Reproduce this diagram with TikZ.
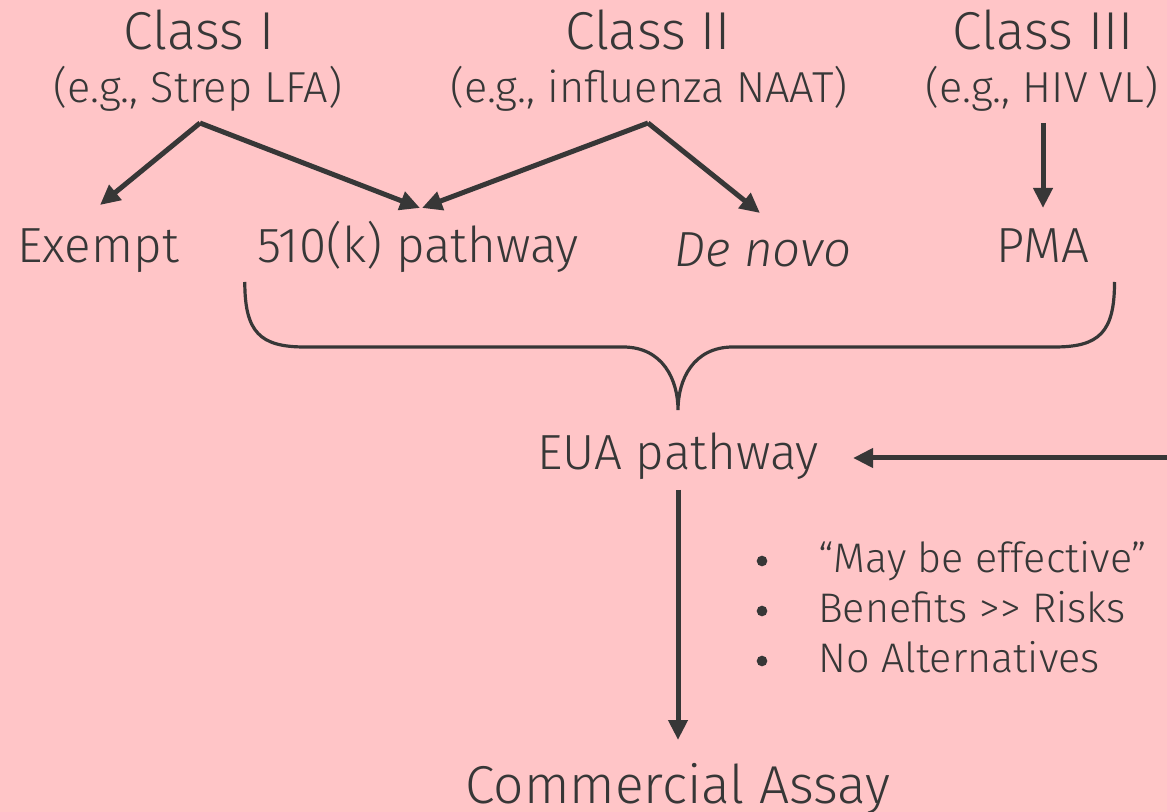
\documentclass[tikz,border=0pt]{standalone}
\usepackage{fontspec}
\setmainfont{Fira Sans}[UprightFont={* Light}, ItalicFont={* Light Italic}]
\usetikzlibrary{arrows.meta,calc}
\definecolor{bgpink}{RGB}{255,197,199}
\definecolor{ink}{RGB}{55,55,55}
\begin{document}
\begin{tikzpicture}[x=0.75pt,y=-0.75pt,
  txt/.style={anchor=base,inner sep=0pt,text=ink},
  big/.style={txt,font=\fontsize{40}{48}\selectfont},
  mid/.style={txt,font=\fontsize{37}{44}\selectfont},
  sub/.style={txt,font=\fontsize{32.5}{38}\selectfont},
  small/.style={txt,font=\fontsize{31}{38}\selectfont},
  arr/.style={draw=ink,line width=3.75pt,-{Triangle[length=15pt,width=14pt]}},
  bracepath/.style={draw=ink,line width=2.4pt}]
% canvas
\fill[bgpink] (0,0) rectangle (1167,812);
\useasboundingbox (0,0) rectangle (1167,812);
% device classes
\node[big] (c1) at (199,50) {Class I};
\node[sub] (s1) at (198,103) {(e.g., Strep LFA)};
\node[big] (c2) at (648,50) {Class II};
\node[sub] (s2) at (649,103) {(e.g., influenza NAAT)};
\node[big] (c3) at (1043,50) {Class III};
\node[sub] (s3) at (1042,103) {(e.g., HIV VL)};
% regulatory routes
\node[mid] (exempt) at (98,263) {Exempt};
\node[mid] (k510) at (418,263) {510(k) pathway};
\node[mid] (denovo) at (763,267) {\itshape De novo};
\node[mid] (pma) at (1043,263) {PMA};
% emergency route and outcome
\node[mid] (eua) at (678,470) {EUA pathway};
\node[big] (assay) at (678,803) {Commercial Assay};
\node[small,anchor=base west] (b1) at (818,572) {``May be effective''};
\node[small,anchor=base west] (b2) at (818,622) {Benefits >\kern0pt> Risks};
\node[small,anchor=base west] (b3) at (818,672) {No Alternatives};
\foreach \b in {b1,b2,b3}
  \fill[ink] ($(\b.base west)+(-56,-11)$) circle (4pt);
% arrows from classes to routes
\draw[arr] ($(s1.base)+(2,20)$) -- ($(exempt.base)+(2,-58)$);
\draw[arr] ($(s1.base)+(2,20)$) -- ($(k510.base)+(2,-55)$);
\draw[arr] ($(s2.base)+(-1,20)$) -- ($(k510.base)+(4,-55)$);
\draw[arr] ($(s2.base)+(-1,20)$) -- ($(denovo.base)+(-3,-54)$);
\draw[arr] ($(s3.base)+(1,20)$) -- ($(pma.base)+(0,-55)$);
% brace gathering the routes
\coordinate (tip) at ($(eua.base)+(0,-60)$);
\draw[bracepath] ($(k510.base west)+(-12,19)$)
  .. controls +(0,50) and +(-45,0) .. ($(k510.base west)+(48,84)$)
  -- ($(tip)+(-55,-63)$)
  .. controls +(40,0) and +(0,-30) .. (tip)
  .. controls +(0,-30) and +(-40,0) .. ($(tip)+(55,-63)$)
  -- ($(pma.base east)+(-35,84)$)
  .. controls +(45,0) and +(0,50) .. ($(pma.base east)+(25,19)$);
% incoming arrow from the right edge
\coordinate (edge) at (1167,458);
\draw[arr] (edge) -- ($(eua.base east)+(34,-12)$);
% EUA to commercial assay
\draw[arr] ($(eua.base)+(0,20)$) -- ($(assay.base)+(0,-63)$);
\end{tikzpicture}
\end{document}
